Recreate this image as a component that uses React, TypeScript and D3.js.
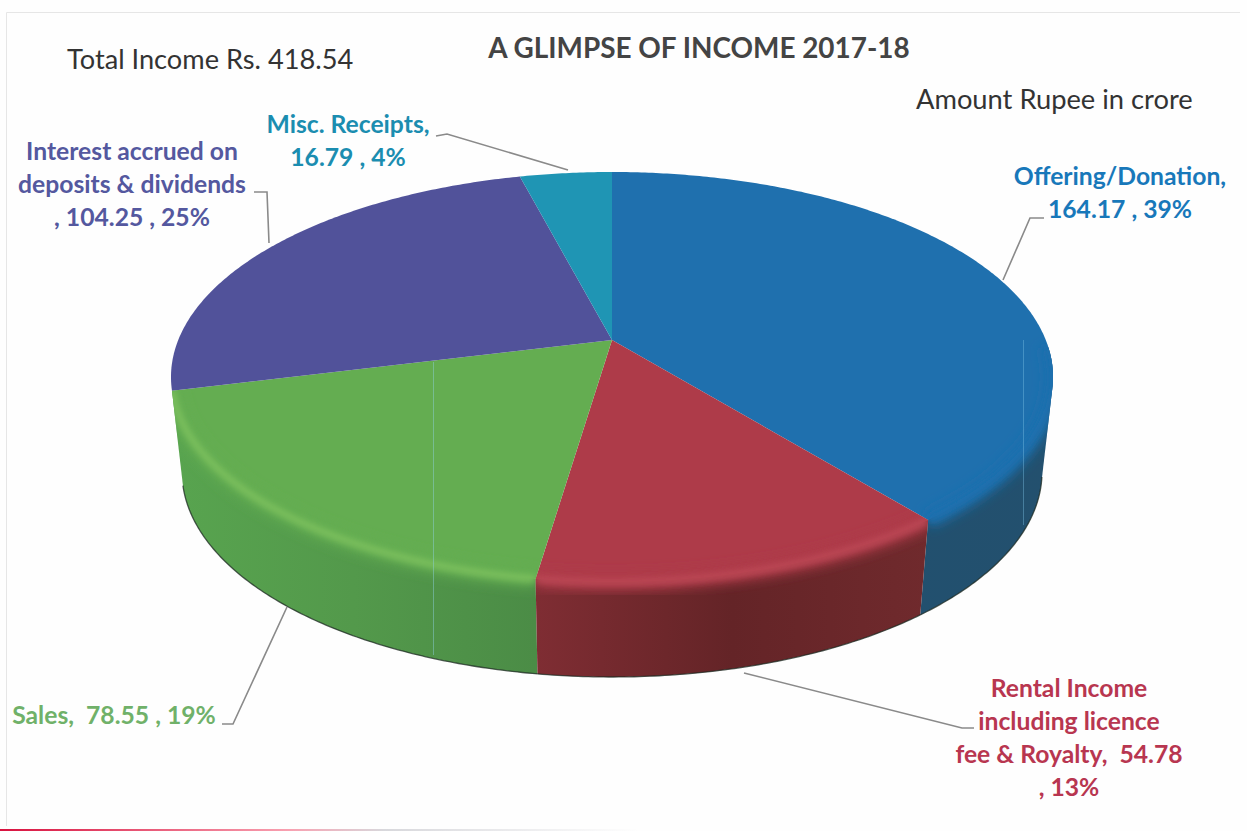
import React from "react";
import * as d3 from "d3";

const categories = ["Offering/Donation", "Rental Income", "Sales", "Interest accrued", "Misc. Receipts"];
const values = [164.17, 54.78, 78.55, 104.25, 16.79];
const topColors = ["#1f70ae", "#ae3b49", "#64ad51", "#51529a", "#1f95b4"];
const wallStops = [
  ["#1d5278", "#21506f", "#23506e"],
  ["#7f2d33", "#642427", "#702a2d"],
  ["#58a44f", "#53994b", "#4b8c46"],
  ["#3e3f78", "#3e3f78", "#3e3f78"],
  ["#176f86", "#176f86", "#176f86"],
];
const rimLights = ["#1f70ae", "#bd4a56", "#7fc25f", "#51529a", "#1f95b4"];
const labelColors = ["#1878ba", "#b83650", "#70b169", "#54589f", "#1b8db0"];
const labelLines = [
  ["Offering/Donation,", "164.17 , 39%"],
  ["Rental Income", "including licence", "fee & Royalty,  54.78", ", 13%"],
  ["Sales,  78.55 , 19%"],
  ["Interest accrued on", "deposits & dividends", ", 104.25 , 25%"],
  ["Misc. Receipts,", "16.79 , 4%"],
];
const labelX = [1120, 1069, 114, 132, 348];
const labelY = [185, 697, 724, 160, 133];
const leaders: [number, number][][] = [
  [[1044, 218], [1030, 218], [1003, 280]],
  [[974, 728], [962, 728], [744, 673]],
  [[222, 724], [233, 724], [287, 607]],
  [[254, 192], [267, 192], [269, 243]],
  [[436, 136], [447, 134], [568, 170]],
];
const wallOrder = [0, 2, 1];

const W = 1247;
const H = 831;
const F = "Lato, Carlito, sans-serif";
const tilt = -0.18; // position of the apex inside the top ellipse

const xTop = d3.scaleLinear().domain([-1, 1]).range([171, 1053]);
const yTop = d3.scaleLinear().domain([-1, 1]).range([172, 582]);
const xBot = d3.scaleLinear().domain([-1, 1]).range([182, 1042]);
const yBot = d3.scaleLinear().domain([-1, 1]).range([267, 677]);

const disc = (a: number) => {
  const u = Math.sin(a);
  const v = -Math.cos(a);
  const den = 1 + tilt * v;
  return [(u * Math.sqrt(1 - tilt * tilt)) / den, (v + tilt) / den];
};
const top = (a: number): [number, number] => {
  const [u, v] = disc(a);
  return [xTop(u), yTop(v)];
};
const bot = (a: number): [number, number] => {
  const [u, v] = disc(a);
  return [xBot(u), yBot(v)];
};
const apex = [xTop(0), yTop(tilt)] as [number, number];
const line = d3.line();
const sample = (a0: number, a1: number) => {
  const n = Math.max(2, Math.ceil((a1 - a0) / 0.01));
  return d3.range(n + 1).map((i) => a0 + ((a1 - a0) * i) / n);
};

const pie = d3.pie<number>().sort(null)(values);

export default function App() {
  const slices = pie.map((p, i) => {
    const angles = sample(p.startAngle, p.endAngle);
    const rim = angles.map(top);
    const low = angles.map(bot);
    const face = line([apex, ...rim])! + "Z";
    const front = angles.filter((a) => disc(a)[1] > -0.15);
    const lower = angles.filter((a) => disc(a)[1] > 0.02);
    const isFront = angles.some((a) => disc(a)[1] > 0.1);
    const frontRim = front.map(top);
    const frontLow = front.map(bot);
    const wall = front.length > 1 ? line(d3.polygonHull([...frontRim, ...frontLow])!)! + "Z" : "";
    return {
      i,
      face,
      wall,
      isFront,
      rimPath: front.length > 1 ? line(frontRim)! : "",
      lowPath: lower.length > 1 ? line(lower.map(bot))! : "",
      x0: d3.min(rim, (d) => d[0])!,
      x1: d3.max(rim, (d) => d[0])!,
    };
  });

  return (
    <svg
      width={W}
      height={H}
      viewBox={`0 0 ${W} ${H}`}
      style={{ position: "absolute", left: 0, top: 0, background: "#fefefe" }}
    >
      <defs>
        <filter id="soft" x="-20%" y="-20%" width="140%" height="140%">
          <feGaussianBlur stdDeviation="6" />
        </filter>
        <filter id="softer" x="-20%" y="-20%" width="140%" height="140%">
          <feGaussianBlur stdDeviation="3" />
        </filter>
        <linearGradient id="strip" x1="0" x2="1" y1="0" y2="0">
          <stop offset="0" stopColor="#d8123f" />
          <stop offset="0.45" stopColor="#f8a0b0" />
          <stop offset="0.6" stopColor="#d8d8dc" />
          <stop offset="1" stopColor="#fefefe" />
        </linearGradient>
        {slices.map((s) => (
          <React.Fragment key={s.i}>
            <linearGradient
              id={`wall${s.i}`}
              gradientUnits="userSpaceOnUse"
              x1={s.x0}
              x2={s.x1}
              y1={0}
              y2={0}
            >
              <stop offset="0" stopColor={wallStops[s.i][0]} />
              <stop offset="0.5" stopColor={wallStops[s.i][1]} />
              <stop offset="1" stopColor={wallStops[s.i][2]} />
            </linearGradient>
            <clipPath id={`clip${s.i}`}>
              <path d={s.face} />
              {s.wall ? <path d={s.wall} /> : null}
            </clipPath>
          </React.Fragment>
        ))}
      </defs>

      {/* sheet frame */}
      <path d="M6.5 12.5H1240M6.5 12.5V826" fill="none" stroke="#e6e6e6" strokeWidth={1} />
      <rect x={0} y={829} width={640} height={2} fill="url(#strip)" />

      {/* walls */}
      {wallOrder.map((k) => (
        <path key={k} d={slices[k].wall} fill={`url(#wall${k})`} />
      ))}
      {wallOrder.map((k) => (
        <path key={k} d={slices[k].lowPath} fill="none" stroke="#1c2a22" strokeOpacity={0.75} strokeWidth={1.3} />
      ))}

      {/* faces */}
      {slices.map((s) => (
        <path key={s.i} d={s.face} fill={topColors[s.i]} />
      ))}

      {/* rounded rim */}
      {slices.map((s) =>
        s.isFront ? (
          <g key={s.i} clipPath={`url(#clip${s.i})`}>
            <path d={s.rimPath} fill="none" stroke={topColors[s.i]} strokeWidth={16} filter="url(#soft)" />
            <path d={s.rimPath} fill="none" stroke={rimLights[s.i]} strokeWidth={6} filter="url(#softer)" />
          </g>
        ) : null
      )}

      {/* scanner streaks */}
      <line x1={433.5} x2={433.5} y1={362} y2={655} stroke="#8fd0e0" strokeOpacity={0.45} strokeWidth={1} />
      <line x1={1023.5} x2={1023.5} y1={340} y2={525} stroke="#7cc4e6" strokeOpacity={0.4} strokeWidth={1} />

      {/* leaders */}
      {leaders.map((l, i) => (
        <path key={i} d={line(l)!} fill="none" stroke="#8a8a8a" strokeWidth={1.6} />
      ))}

      {/* labels */}
      {labelLines.map((lines, i) =>
        lines.map((t, j) => (
          <text
            key={categories[i] + j}
            x={labelX[i]}
            y={labelY[i] + j * 33}
            fontFamily={F}
            fontWeight={700}
            fontSize={24.7}
            fill={labelColors[i]}
            textAnchor="middle"
            xmlSpace="preserve"
          >
            {t}
          </text>
        ))
      )}

      <text x={67} y={69} fontFamily={F} fontSize={27.2} fill="#333">
        Total Income Rs. 418.54
      </text>
      <text x={699} y={58} fontFamily={F} fontSize={27.9} fontWeight={700} fill="#444" textAnchor="middle">
        A GLIMPSE OF INCOME 2017-18
      </text>
      <text x={916} y={109} fontFamily={F} fontSize={27.3} fill="#333">
        Amount Rupee in crore
      </text>
    </svg>
  );
}
